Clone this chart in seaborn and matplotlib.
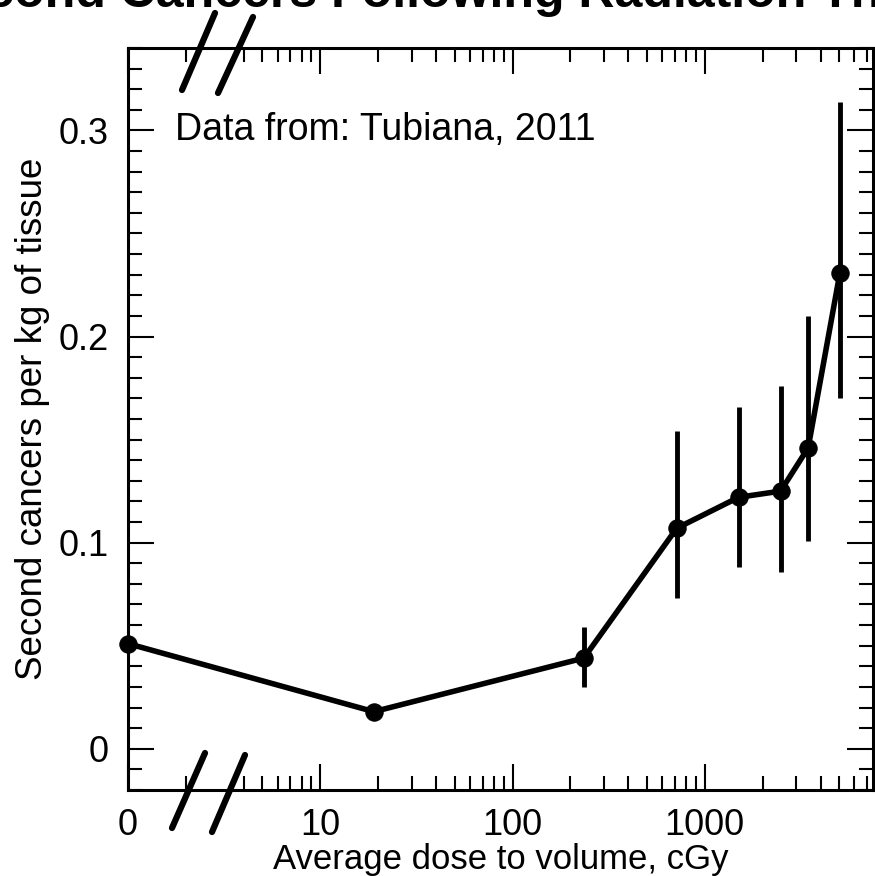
import numpy as np
import pandas as pd
import seaborn as sns
import matplotlib.pyplot as plt
from matplotlib.lines import Line2D
from matplotlib.ticker import FixedLocator, MultipleLocator, NullFormatter

# dose 0 is drawn at x=1, left of the axis break
dose = [0, 19, 235, 715, 1500, 2480, 3450, 5050]
rate = [0.051, 0.018, 0.044, 0.107, 0.122, 0.125, 0.146, 0.231]
err_lo = [np.nan, np.nan, 0.030, 0.073, 0.088, 0.086, 0.101, 0.170]
err_hi = [np.nan, np.nan, 0.059, 0.154, 0.166, 0.176, 0.210, 0.314]
x_major = [1, 10, 100, 1000]
x_labels = ['0', '10', '100', '1000']
x_minor = [2, 4, 5, 6, 7, 8, 9] + [k * 10 for k in range(2, 10)] + \
          [k * 100 for k in range(2, 10)] + [k * 1000 for k in range(2, 8)]

df = pd.DataFrame({'dose': dose, 'rate': rate, 'lo': err_lo, 'hi': err_hi})
df['xplot'] = df['dose'].where(df['dose'] > 0, 1)

sns.set_theme(style='ticks')
plt.rcParams['font.family'] = ['Liberation Sans', 'DejaVu Sans']
plt.rcParams['text.color'] = 'black'
plt.rcParams['axes.labelcolor'] = 'black'

fig = plt.figure(figsize=(8.75, 8.76), dpi=100)
ax = fig.add_axes([0.1463, 0.0982, 0.8514, 0.847])

bars = df.dropna()
ax.errorbar(bars['xplot'], bars['rate'],
            yerr=[bars['rate'] - bars['lo'], bars['hi'] - bars['rate']],
            fmt='none', ecolor='black', elinewidth=3.5, capsize=0, zorder=2)
sns.lineplot(data=df, x='xplot', y='rate', ax=ax, color='black', lw=4,
             marker='o', markersize=12.5, markeredgecolor='black', zorder=3,
             clip_on=False)

ax.set_xscale('log')
ax.set_xlim(1, 7500)
ax.set_ylim(-0.02, 0.34)
ax.xaxis.set_major_locator(FixedLocator(x_major))
ax.set_xticklabels(x_labels)
ax.xaxis.set_minor_locator(FixedLocator(x_minor))
ax.xaxis.set_minor_formatter(NullFormatter())
ax.set_yticks([0, 0.1, 0.2, 0.3])
ax.set_yticklabels(['0', '0.1', '0.2', '0.3'])
ax.yaxis.set_minor_locator(MultipleLocator(0.01))

ax.tick_params(which='both', direction='in', top=True, right=True,
               colors='black', labelsize=26)
ax.tick_params(axis='y', pad=14)
ax.tick_params(axis='x', pad=13)
ax.tick_params(which='major', length=19, width=1.5)
ax.tick_params(which='minor', length=10, width=1.5)
for s in ax.spines.values():
    s.set_linewidth(2.2)
    s.set_color('black')

ax.set_xlabel('Average dose to volume, cGy', fontsize=25, labelpad=0)
ax.set_ylabel('Second cancers per kg of tissue', fontsize=26.5, labelpad=6)
ax.text(0.063, 0.889, 'Data from: Tubiana, 2011', transform=ax.transAxes,
        fontsize=27, va='center', ha='left')

# axis break marks
W, H = 875.0, 876.0
for (x0, y0), (x1, y1) in [((182, 90), (215, 13)), ((218, 93), (253, 17)),
                           ((172, 828), (205, 753)), ((212, 832), (245, 755))]:
    fig.add_artist(Line2D([x0 / W, x1 / W], [1 - y0 / H, 1 - y1 / H],
                          transform=fig.transFigure, color='black', lw=4.5,
                          solid_capstyle='round'))

fig.text(-75 / W, 1 - 7 / H, 'Second Cancers Following Radiation Therapy',
         fontsize=36, fontweight='bold', ha='left', va='baseline')

fig.savefig('out.png', dpi=100)
